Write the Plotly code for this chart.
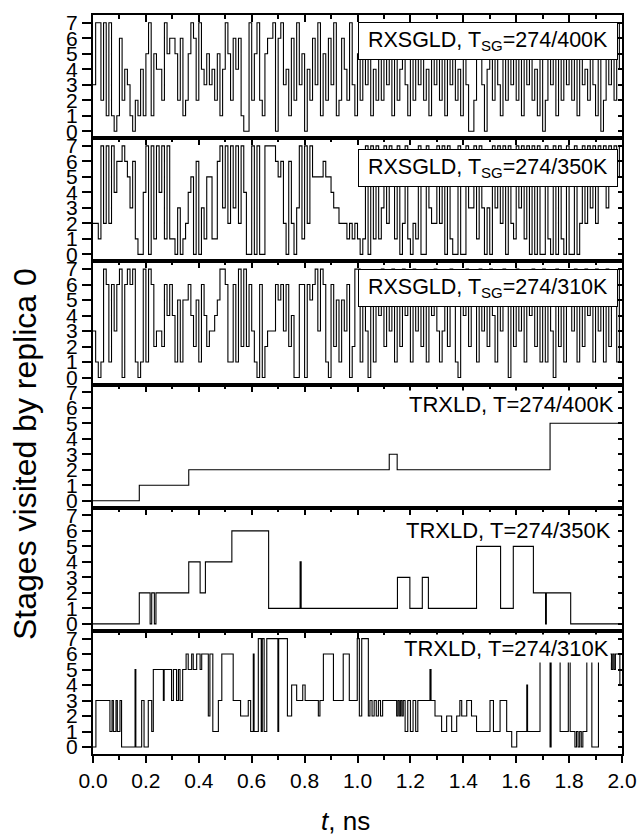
import numpy as np
import plotly.graph_objects as go
from plotly.subplots import make_subplots

T_END = 2.0

# Stage index of replica 0, sampled every 0.01 ns (RXSGLD runs)
rxsgld_400 = [3,7,7,2,7,1,7,1,0,1, 6,2,4,3,1,0,2,1,4,1,
              5,7,1,5,4,4,2,7,5,6, 6,5,2,6,1,2,5,7,6,2,
              7,4,3,5,3,4,2,5,1,4, 7,5,2,6,4,6,1,0,0,7,
              2,5,7,2,1,5,6,6,7,0, 6,7,3,4,1,6,2,7,3,5,
              0,4,2,6,3,7,1,5,2,6, 3,7,1,2,6,4,2,7,3,1,
              5,2,7,3,6,1,4,2,7,2, 5,3,7,1,6,2,4,7,3,1,
              6,2,5,3,7,2,4,1,6,3, 7,2,5,1,6,3,7,2,4,1,
              6,3,0,0,2,5,7,3,0,4, 6,2,7,3,1,5,2,6,3,7,
              2,5,1,6,3,7,2,4,1,6, 0,2,7,3,5,1,6,2,7,3,
              5,2,6,1,7,3,4,2,6,3, 1,7,0,2,5,3,6,2,7,4]

rxsgld_350 = [2,2,1,7,2,7,2,7,4,6, 6,7,6,5,3,6,1,0,0,4,
              7,0,7,1,7,4,7,1,7,1, 1,0,3,0,1,2,4,5,0,6,
              0,3,1,5,5,1,1,6,7,3, 7,2,7,3,7,2,7,4,0,0,
              7,0,7,0,0,7,7,7,7,6, 5,6,2,0,6,2,0,3,7,1,
              7,2,7,5,5,5,5,6,5,5, 4,3,3,2,2,2,1,2,1,2,
              1,0,1,7,0,7,1,7,1,3, 7,2,7,5,1,7,0,2,7,1,
              0,2,1,7,0,0,7,3,2,2, 7,2,7,0,7,1,0,0,7,0,
              0,7,3,3,7,1,7,3,0,3, 0,7,3,7,2,7,0,7,2,1,
              7,3,7,1,7,0,7,0,7,0, 0,7,1,0,7,0,7,1,0,7,
              0,0,7,0,2,7,2,7,3,7, 2,7,5,7,3,7,6,7,5,7]

rxsgld_310 = [3,1,0,1,7,6,1,6,3,6, 7,0,6,7,6,7,1,0,1,7,
              1,7,6,2,3,3,2,6,4,6, 4,1,5,1,5,5,6,4,2,5,
              1,6,4,2,3,3,4,5,7,7, 6,1,1,6,1,7,2,7,2,6,
              3,1,0,6,0,2,3,3,3,6, 5,6,3,6,2,4,0,0,6,6,
              0,6,5,6,7,3,7,6,1,0, 6,2,5,1,5,3,6,0,2,7,
              7,1,5,3,0,6,1,5,4,7, 2,6,3,7,1,5,2,7,4,6,
              1,7,3,5,2,6,1,6,4,7, 3,1,3,6,2,7,5,1,0,6,
              4,7,2,5,6,1,7,3,6,2, 7,4,1,6,3,7,5,0,6,2,
              7,3,5,1,6,4,7,2,5,1, 7,1,6,3,0,7,2,6,1,5,
              6,3,7,1,5,2,7,4,6,1, 7,3,6,1,7,2,6,5,1,7]

# TRXLD runs: switching times (ns) and the stage entered at each time
trxld_400_t = [0.0, 0.175, 0.362, 1.120, 1.150, 1.728]
trxld_400_s = [0, 1, 2, 3, 2, 5]

trxld_350_t = [0.0, 0.175, 0.216, 0.222, 0.232, 0.238, 0.362, 0.405, 0.425, 0.525,
               0.664, 0.783, 0.787, 1.151, 1.198, 1.245, 1.268, 1.450, 1.541, 1.589,
               1.665, 1.711, 1.714, 1.806]
trxld_350_s = [0, 2, 0, 2, 0, 2, 4, 2, 4, 6,
               1, 4, 1, 3, 1, 3, 1, 5, 1, 5,
               2, 0, 2, 0]

trxld_310_t = [0.0, 0.011, 0.064, 0.072, 0.077, 0.087, 0.092, 0.102, 0.108, 0.159,
               0.162, 0.184, 0.193, 0.209, 0.222, 0.228, 0.266, 0.269, 0.297, 0.304,
               0.316, 0.323, 0.329, 0.339, 0.352, 0.360, 0.373, 0.379, 0.392, 0.405,
               0.411, 0.436, 0.442, 0.453, 0.474, 0.487, 0.530, 0.558, 0.587, 0.596,
               0.606, 0.609, 0.625, 0.636, 0.640, 0.647, 0.657, 0.699, 0.702, 0.735,
               0.751, 0.770, 0.793, 0.802, 0.852, 0.858, 0.871, 0.909, 0.946, 0.969,
               0.999, 1.007, 1.016, 1.041, 1.047, 1.055, 1.063, 1.071, 1.079, 1.087,
               1.095, 1.148, 1.153, 1.158, 1.163, 1.168, 1.173, 1.180, 1.190, 1.200,
               1.210, 1.220, 1.228, 1.274, 1.278, 1.293, 1.318, 1.337, 1.356, 1.375,
               1.387, 1.394, 1.413, 1.431, 1.450, 1.501, 1.514, 1.539, 1.564, 1.583,
               1.602, 1.640, 1.643, 1.690, 1.728, 1.732, 1.766, 1.797, 1.804, 1.822,
               1.828, 1.834, 1.840, 1.846, 1.852, 1.867, 1.886, 1.911, 1.955, 1.960,
               1.965, 1.970, 1.975, 1.992]
trxld_310_s = [0, 3, 1, 3, 1, 3, 1, 3, 0, 5,
               0, 3, 0, 3, 1, 5, 3, 5, 3, 5,
               3, 5, 3, 5, 6, 5, 6, 5, 6, 5,
               6, 2, 6, 1, 3, 6, 3, 2, 3, 1,
               6, 1, 7, 1, 7, 1, 7, 1, 7, 2,
               4, 3, 4, 3, 2, 3, 6, 3, 6, 3,
               7, 2, 7, 2, 3, 2, 3, 2, 3, 2,
               3, 2, 3, 2, 3, 2, 3, 1, 3, 1,
               3, 1, 3, 5, 3, 2, 1, 2, 1, 2,
               3, 2, 3, 2, 1, 3, 1, 3, 1, 0,
               1, 4, 1, 6, 0, 6, 1, 6, 1, 0,
               1, 0, 1, 0, 1, 6, 0, 6, 6, 5,
               6, 5, 6, 4]

panel_labels = ["RXSGLD, T<sub>SG</sub>=274/400K",
                "RXSGLD, T<sub>SG</sub>=274/350K",
                "RXSGLD, T<sub>SG</sub>=274/310K",
                "TRXLD, T=274/400K",
                "TRXLD, T=274/350K",
                "TRXLD, T=274/310K"]
stage_ticks = [0, 1, 2, 3, 4, 5, 6, 7]
time_ticks = [0.0, 0.2, 0.4, 0.6, 0.8, 1.0, 1.2, 1.4, 1.6, 1.8, 2.0]


def sampled(values):
    dt = T_END / len(values)
    t = list(np.arange(len(values)) * dt) + [T_END]
    return t, list(values) + [values[-1]]


def switched(times, stages):
    return list(times) + [T_END], list(stages) + [stages[-1]]


series = [sampled(rxsgld_400), sampled(rxsgld_350), sampled(rxsgld_310),
          switched(trxld_400_t, trxld_400_s), switched(trxld_350_t, trxld_350_s),
          switched(trxld_310_t, trxld_310_s)]

FONT = "Liberation Sans, Arial, sans-serif"
NP = 6

fig = make_subplots(rows=NP, cols=1, shared_xaxes=True, vertical_spacing=0)

for i, (t, s) in enumerate(series, start=1):
    fig.add_trace(go.Scatter(x=t, y=s, mode="lines", line_shape="hv",
                             line=dict(color="black", width=1.1),
                             showlegend=False, hoverinfo="skip"), row=i, col=1)

yrange = [-0.45, 7.5]
for i in range(1, NP + 1):
    fig.update_xaxes(row=i, col=1, range=[0, T_END], side="top", automargin=False,
                     showline=True, linecolor="black", linewidth=2, mirror=True,
                     ticks="inside", ticklen=7, tickwidth=1.5, tickcolor="black",
                     tickvals=time_ticks, showticklabels=False, showgrid=False,
                     zeroline=False,
                     minor=dict(ticks="inside", dtick=0.1, ticklen=4,
                                tickwidth=1.5, tickcolor="black"))
    fig.update_yaxes(row=i, col=1, range=yrange, tickvals=stage_ticks, automargin=False,
                     showline=True, linecolor="black", linewidth=2, mirror=True,
                     ticks="outside", ticklen=9, tickwidth=1.5, tickcolor="black",
                     showgrid=False, zeroline=False,
                     tickfont=dict(family=FONT, size=21, color="black"))

# Inward tick marks on the right edge of every panel
layout_extra = {}
for i in range(1, NP + 1):
    k = NP + 1 + i
    suffix = "" if i == 1 else str(i)
    layout_extra[f"yaxis{k}"] = dict(overlaying=f"y{suffix}", anchor=f"x{suffix}",
                                     side="right", range=yrange, tickvals=stage_ticks,
                                     ticks="inside", ticklen=4, tickwidth=1.5,
                                     tickcolor="black", showticklabels=False,
                                     automargin=False, showgrid=False,
                                     zeroline=False, showline=False)
    t, s = series[i - 1]
    fig.add_trace(go.Scatter(x=t, y=s, mode="lines", opacity=0, showlegend=False,
                             hoverinfo="skip", xaxis=f"x{suffix}", yaxis=f"y{k}"))

# Labelled time axis along the bottom of the last panel
layout_extra["xaxis7"] = dict(overlaying="x6", anchor="y6", side="bottom",
                              range=[0, T_END], tickvals=time_ticks,
                              ticktext=[f"{v:.1f}" for v in time_ticks],
                              ticks="outside", ticklen=8, tickwidth=1.5,
                              tickcolor="black", showgrid=False, zeroline=False,
                              showline=False, ticklabeloverflow="allow",
                              automargin=False,
                              tickfont=dict(family=FONT, size=21, color="black"),
                              minor=dict(ticks="outside", dtick=0.1, ticklen=5,
                                         tickwidth=1.5, tickcolor="black"))
t6, s6 = series[5]
fig.add_trace(go.Scatter(x=t6, y=s6, mode="lines", opacity=0, showlegend=False,
                         hoverinfo="skip", xaxis="x7", yaxis="y6"))
fig.update_layout(**layout_extra)

annotations = []
box_y = [0.79, 0.76, 0.785]
for i in range(3):
    ax = "" if i == 0 else str(i + 1)
    annotations.append(dict(text=panel_labels[i], xref=f"x{ax} domain", yref=f"y{ax} domain",
                            x=0.747, y=box_y[i], xanchor="center", yanchor="middle",
                            showarrow=False, bgcolor="white", bordercolor="black",
                            borderwidth=1, borderpad=0, width=258, height=36,
                            font=dict(family=FONT, size=21.5, color="black")))
plain_x = [0.988, 0.983, 0.979]
plain_y = [0.834, 0.818, 0.857]
for i in range(3, 6):
    ax = str(i + 1)
    annotations.append(dict(text=panel_labels[i], xref=f"x{ax} domain", yref=f"y{ax} domain",
                            x=plain_x[i - 3], y=plain_y[i - 3], xanchor="right",
                            yanchor="middle", showarrow=False, bgcolor="white",
                            borderpad=1, font=dict(family=FONT, size=22, color="black")))

annotations.append(dict(text="Stages visited by replica 0", textangle=-90,
                        xref="paper", yref="paper", x=-0.1285, y=0.406,
                        xanchor="center", yanchor="middle", showarrow=False,
                        font=dict(family=FONT, size=32, color="black")))
annotations.append(dict(text="<i>t</i>, ns", xref="paper", yref="paper",
                        x=0.478, y=-0.0907, xanchor="center", yanchor="middle",
                        showarrow=False, font=dict(family=FONT, size=26, color="black")))

fig.update_layout(width=639, height=838, autosize=False,
                  margin=dict(l=93, r=17, t=15, b=84, autoexpand=False),
                  paper_bgcolor="white", plot_bgcolor="white",
                  annotations=annotations, showlegend=False)

fig.write_html("out.html")
